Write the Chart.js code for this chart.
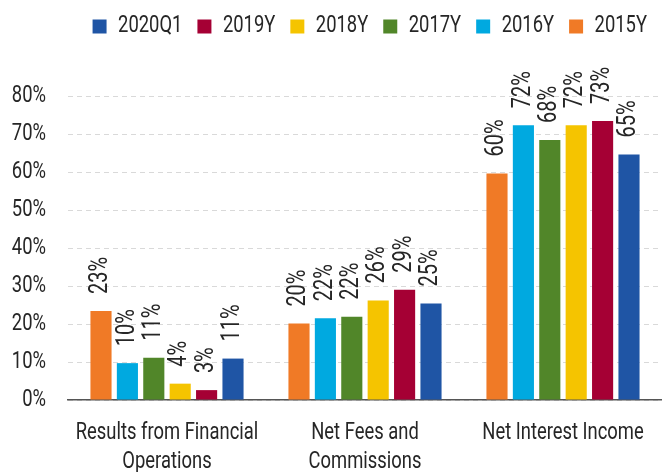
<!DOCTYPE html>
<html>
<head>
<meta charset="utf-8">
<script src="https://cdn.jsdelivr.net/npm/chart.js@4.4.1/dist/chart.umd.min.js"></script>
<style>
  html, body { margin: 0; padding: 0; background: #fff; }
  #wrap { width: 662px; height: 472px; }
</style>
</head>
<body>
<div id="wrap"><canvas id="incomeChart"></canvas></div>
<script>
// Categories and series
const categories = [['Results from Financial', 'Operations'], ['Net Fees and', 'Commissions'], 'Net Interest Income'];
const seriesNames = ['2015Y', '2016Y', '2017Y', '2018Y', '2019Y', '2020Q1'];
const seriesColors = ['#F07A26', '#00A9E0', '#518629', '#F5C400', '#A50034', '#1F55A5'];

// Share of operating income (%)
const values2015 = [23.4, 20.1, 59.6];
const values2016 = [9.7, 21.5, 72.3];
const values2017 = [11.1, 21.9, 68.4];
const values2018 = [4.3, 26.2, 72.3];
const values2019 = [2.6, 29.0, 73.4];
const values2020Q1 = [10.9, 25.4, 64.6];
const seriesValues = [values2015, values2016, values2017, values2018, values2019, values2020Q1];

// Y axis ticks
const yTicks = [0, 10, 20, 30, 40, 50, 60, 70, 80];

const FONT = "Roboto, 'Liberation Sans', sans-serif";
const TEXT = '#262626';
const SX = 0.8; // squeeze text horizontally, the original uses a condensed face

Chart.defaults.font.family = FONT;
Chart.defaults.color = TEXT;

const canvas = document.getElementById('incomeChart');
const ctx = canvas.getContext('2d');

// no condensed font installed, so narrow every text draw / measure on this context
const rawFill = ctx.fillText.bind(ctx);
const rawMeasure = ctx.measureText.bind(ctx);
ctx.fillText = function (text, x, y) {
  this.save();
  this.translate(x, y);
  this.scale(SX, 1);
  rawFill(text, 0, 0);
  this.restore();
};
ctx.measureText = function (text) {
  const m = rawMeasure(text);
  return {
    width: m.width * SX,
    actualBoundingBoxAscent: m.actualBoundingBoxAscent,
    actualBoundingBoxDescent: m.actualBoundingBoxDescent,
    actualBoundingBoxLeft: m.actualBoundingBoxLeft * SX,
    actualBoundingBoxRight: m.actualBoundingBoxRight * SX
  };
};

// Rotated value labels above the bars
const barLabels = {
  id: 'barLabels',
  afterDatasetsDraw(chart) {
    const c = chart.ctx;
    c.save();
    c.font = '25px ' + FONT;
    c.fillStyle = TEXT;
    chart.data.datasets.forEach((ds, i) => {
      chart.getDatasetMeta(i).data.forEach((bar, j) => {
        c.save();
        c.translate(bar.x, bar.y - 17);
        c.rotate(-Math.PI / 2);
        c.textAlign = 'left';
        c.textBaseline = 'middle';
        c.fillText(Math.round(ds.data[j]) + '%', 0, 0);
        c.restore();
      });
    });
    c.restore();
  }
};

// Extra room under the legend
const legendGap = {
  id: 'legendGap',
  beforeInit(chart) {
    const fit = chart.legend.fit;
    chart.legend.fit = function () {
      fit.bind(chart.legend)();
      this.height += 48;
    };
  }
};

const datasets = seriesNames.map((name, i) => ({
  label: name,
  data: seriesValues[i],
  backgroundColor: seriesColors[i],
  borderWidth: 0,
  categoryPercentage: 0.8,
  barPercentage: 0.8
}));

new Chart(ctx, {
  type: 'bar',
  data: { labels: categories, datasets: datasets },
  plugins: [barLabels, legendGap],
  options: {
    responsive: true,
    maintainAspectRatio: false,
    animation: false,
    layout: { padding: { left: 8, right: 0, top: 0, bottom: 0 } },
    plugins: {
      legend: {
        position: 'top',
        align: 'end',
        reverse: true,
        labels: {
          boxWidth: 14,
          boxHeight: 14,
          padding: 15,
          color: TEXT,
          font: { size: 23 }
        }
      },
      tooltip: { enabled: false }
    },
    scales: {
      x: {
        afterFit(axis) { axis.height = 72; },
        grid: { display: false },
        border: { display: true, color: '#555', width: 1.5 },
        ticks: {
          color: TEXT,
          padding: 11,
          font: { size: 23, lineHeight: 1.25 },
          maxRotation: 0,
          autoSkip: false
        }
      },
      y: {
        min: 0,
        max: 80,
        afterFit(axis) { axis.width = 60; },
        afterBuildTicks(axis) {
          axis.ticks = yTicks.map(v => ({ value: v }));
        },
        grid: { color: '#d9d9d9', lineWidth: 1, drawTicks: false },
        border: { display: false, dash: [5, 4] },
        ticks: {
          color: TEXT,
          padding: 22,
          font: { size: 23 },
          callback: v => v + '%'
        }
      }
    }
  }
});
</script>
</body>
</html>
